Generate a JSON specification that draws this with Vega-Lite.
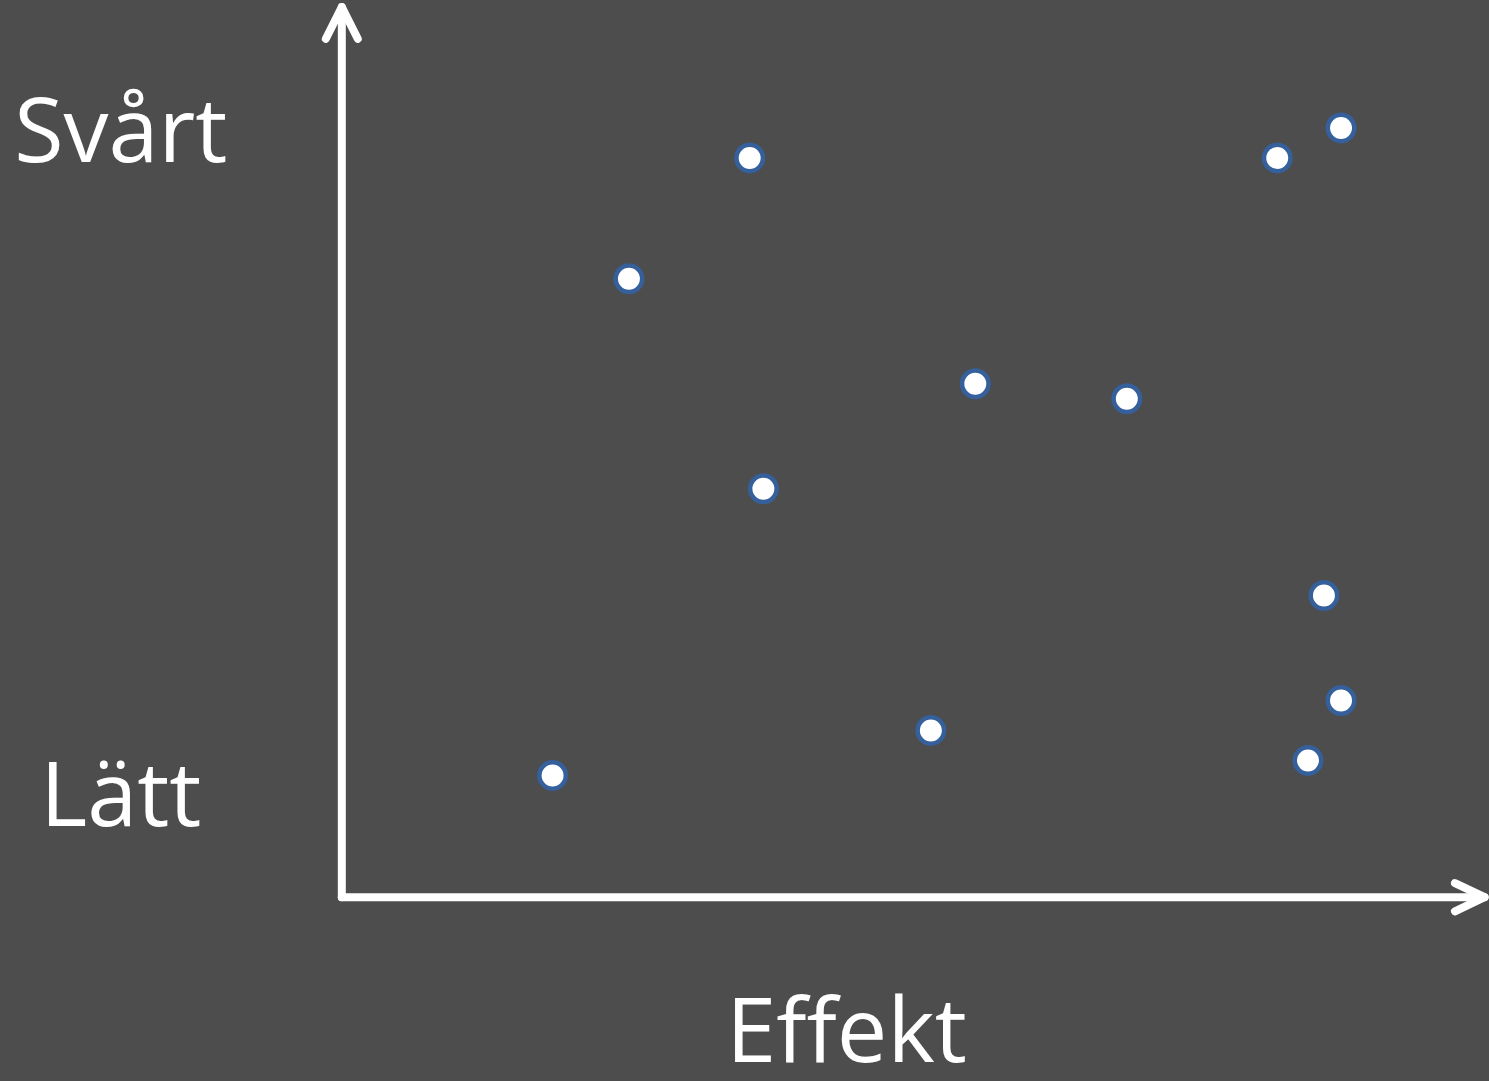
{
  "$schema": "https://vega.github.io/schema/vega-lite/v6.json",
  "width": 1489,
  "height": 1081,
  "autosize": {"type": "fit", "contains": "padding"},
  "padding": 0,
  "background": "#4d4d4d",
  "config": {"view": {"stroke": null}},
  "datasets": {
    "points": [
      {"effekt": 35.8, "svarighet": 83.8},
      {"effekt": 25.2, "svarighet": 70.1},
      {"effekt": 82.1, "svarighet": 83.8},
      {"effekt": 87.7, "svarighet": 87.2},
      {"effekt": 55.6, "svarighet": 58.2},
      {"effekt": 68.9, "svarighet": 56.5},
      {"effekt": 37.0, "svarighet": 46.3},
      {"effekt": 86.2, "svarighet": 34.2},
      {"effekt": 87.7, "svarighet": 22.3},
      {"effekt": 51.7, "svarighet": 18.9},
      {"effekt": 84.8, "svarighet": 15.5},
      {"effekt": 18.5, "svarighet": 13.8}
    ],
    "axes": [
      {"part": "yaxis", "o": 1, "effekt": 0, "svarighet": 0},
      {"part": "yaxis", "o": 2, "effekt": 0, "svarighet": 100.9},
      {"part": "xaxis", "o": 1, "effekt": 0, "svarighet": 0},
      {"part": "xaxis", "o": 2, "effekt": 100.3, "svarighet": 0},
      {"part": "yhead", "o": 1, "effekt": -1.4, "svarighet": 97.3},
      {"part": "yhead", "o": 2, "effekt": 0, "svarighet": 100.9},
      {"part": "yhead", "o": 3, "effekt": 1.4, "svarighet": 97.3},
      {"part": "xhead", "o": 1, "effekt": 97.7, "svarighet": 1.6},
      {"part": "xhead", "o": 2, "effekt": 100.3, "svarighet": 0},
      {"part": "xhead", "o": 3, "effekt": 97.7, "svarighet": -1.6}
    ],
    "labels": [
      {"text": "Svårt", "effekt": -19.4, "svarighet": 83.3},
      {"text": "Lätt", "effekt": -19.4, "svarighet": 8.1},
      {"text": "Effekt", "effekt": 44.3, "svarighet": -18.7}
    ]
  },
  "encoding": {
    "x": {"field": "effekt", "type": "quantitative", "scale": {"domain": [-30, 100.6], "nice": false, "zero": false}, "axis": null},
    "y": {"field": "svarighet", "type": "quantitative", "scale": {"domain": [-20.5, 101.7], "nice": false, "zero": false}, "axis": null}
  },
  "layer": [
    {
      "data": {"name": "axes"},
      "mark": {"type": "line", "color": "#ffffff", "strokeWidth": 8, "strokeCap": "round", "strokeJoin": "round"},
      "encoding": {
        "detail": {"field": "part", "type": "nominal"},
        "order": {"field": "o", "type": "quantitative"}
      }
    },
    {
      "data": {"name": "points"},
      "mark": {"type": "point", "shape": "circle", "filled": true, "fill": "#ffffff", "stroke": "#35609c", "strokeWidth": 4.5, "size": 700, "opacity": 1},
      "encoding": {}
    },
    {
      "data": {"name": "labels"},
      "mark": {"type": "text", "font": "Open Sans", "fontSize": 90, "color": "#ffffff", "align": "center", "baseline": "alphabetic"},
      "encoding": {"text": {"field": "text", "type": "nominal"}}
    }
  ]
}
